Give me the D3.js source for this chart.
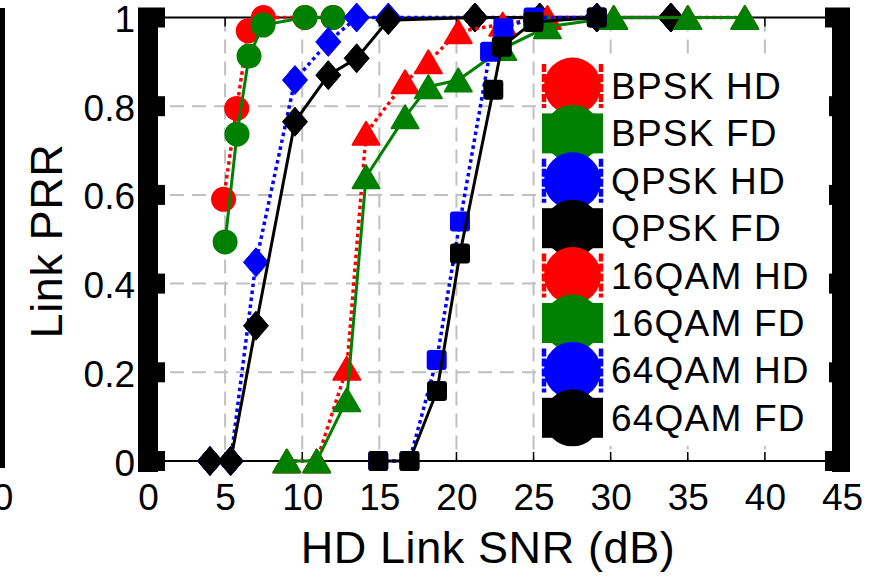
<!DOCTYPE html>
<html>
<head>
<meta charset="utf-8">
<script src="https://cdn.jsdelivr.net/npm/d3@7"></script>
<style>
  html, body { margin: 0; padding: 0; background: #fff; }
  svg { display: block; font-family: "Liberation Sans", Arial, Helvetica, sans-serif; }
</style>
</head>
<body>
<svg id="chart" width="876" height="577"></svg>
<script>
// ---------------- data ----------------
const xTickValues = [0, 5, 10, 15, 20, 25, 30, 35, 40, 45];
const yTickValues = [0, 0.2, 0.4, 0.6, 0.8, 1];
const yTickLabels = ["0", "0.2", "0.4", "0.6", "0.8", "1"];

const bpskX   = [4.9, 5.75, 6.5, 7.48, 10.18, 12.0];
const bpskHD  = [0.59, 0.795, 0.97, 1.0, 1.0, 1.0];
const bpskFDX = [5.0, 5.77, 6.55, 7.46, 10.18, 12.0];
const bpskFD  = [0.494, 0.737, 0.913, 0.983, 1.0, 1.0];

const qpskX   = [4.02, 5.36, 7.0, 9.53, 11.69, 13.53, 15.58, 21.2, 25.4, 29.1, 33.9];
const qpskHD  = [0, 0, 0.448, 0.859, 0.945, 1.0, 1.0, 1.0, 1.0, 1.0, 1.0];
const qpskFD  = [0, 0, 0.305, 0.765, 0.870, 0.908, 0.994, 1.0, 1.0, 1.0, 1.0];

const qam16X  = [9.0, 10.94, 12.89, 14.14, 16.67, 18.18, 20.12, 23.0, 25.9, 30.2, 35.0, 38.7];
const qam16HD = [0, 0, 0.209, 0.739, 0.855, 0.90, 0.968, 0.985, 1.0, 1.0, 1.0, 1.0];
const qam16FD = [0, 0, 0.138, 0.641, 0.776, 0.844, 0.859, 0.93, 0.979, 1.0, 1.0, 1.0];

const qam64HDX = [14.93, 16.95, 18.72, 20.23, 22.18, 23.04, 25.0, 29.1];
const qam64HD  = [0, 0, 0.228, 0.54, 0.923, 0.976, 1.0, 1.0];
const qam64FDX = [14.93, 16.95, 18.74, 20.23, 22.39, 22.94, 24.99, 29.1];
const qam64FD  = [0, 0, 0.158, 0.468, 0.837, 0.934, 0.99, 1.0];

const seriesNames = ["BPSK HD", "BPSK FD", "QPSK HD", "QPSK FD", "16QAM HD", "16QAM FD", "64QAM HD", "64QAM FD"];

// ---------------- setup ----------------
const svg = d3.select("#chart");
const x = d3.scaleLinear().domain([0, 45]).range([148, 842]);
const y = d3.scaleLinear().domain([0, 1]).range([461, 17.5]);

const series = [
  { name: seriesNames[0], xs: bpskX,    ys: bpskHD,  color: "#ff0000", hd: true,  marker: "circle" },
  { name: seriesNames[1], xs: bpskFDX,  ys: bpskFD,  color: "#008000", hd: false, marker: "circle" },
  { name: seriesNames[2], xs: qpskX,    ys: qpskHD,  color: "#0000ff", hd: true,  marker: "diamond" },
  { name: seriesNames[3], xs: qpskX,    ys: qpskFD,  color: "#000000", hd: false, marker: "diamond" },
  { name: seriesNames[4], xs: qam16X,   ys: qam16HD, color: "#ff0000", hd: true,  marker: "triangle" },
  { name: seriesNames[5], xs: qam16X,   ys: qam16FD, color: "#008000", hd: false, marker: "triangle" },
  { name: seriesNames[6], xs: qam64HDX, ys: qam64HD, color: "#0000ff", hd: true,  marker: "square" },
  { name: seriesNames[7], xs: qam64FDX, ys: qam64FD, color: "#000000", hd: false, marker: "square" }
];

// ---------------- grid ----------------
const grid = svg.append("g");
grid.selectAll("line.vg").data(xTickValues.filter(v => v > 0 && v < 45)).enter().append("line")
  .attr("x1", d => x(d)).attr("x2", d => x(d)).attr("y1", y(1)).attr("y2", y(0))
  .attr("stroke", "#c0c0c0").attr("stroke-width", 2).attr("stroke-dasharray", "14 8");
grid.selectAll("line.hg").data(yTickValues.filter(v => v > 0 && v < 1)).enter().append("line")
  .attr("x1", x(0)).attr("x2", x(45)).attr("y1", d => y(d)).attr("y2", d => y(d))
  .attr("stroke", "#c0c0c0").attr("stroke-width", 2).attr("stroke-dasharray", "14 8");

// ---------------- axes box ----------------
svg.append("line").attr("x1", x(0)).attr("x2", x(45)).attr("y1", y(0)).attr("y2", y(0))
  .attr("stroke", "#000").attr("stroke-width", 2);
svg.append("line").attr("x1", x(0)).attr("x2", x(45)).attr("y1", y(1)).attr("y2", y(1))
  .attr("stroke", "#000").attr("stroke-width", 2);
svg.selectAll("line.bt").data(xTickValues).enter().append("line")
  .attr("x1", d => x(d)).attr("x2", d => x(d)).attr("y1", y(0)).attr("y2", y(0) - 9)
  .attr("stroke", "#000").attr("stroke-width", 1.5);
svg.selectAll("line.tt").data(xTickValues).enter().append("line")
  .attr("x1", d => x(d)).attr("x2", d => x(d)).attr("y1", y(1)).attr("y2", y(1) + 9)
  .attr("stroke", "#000").attr("stroke-width", 1.5);

// tick labels via d3 axes
const xAxis = d3.axisBottom(x).tickValues(xTickValues).tickSize(0).tickPadding(0).tickFormat(d3.format("d"));
const gx = svg.append("g").attr("transform", `translate(0,${y(0)})`).call(xAxis);
gx.select(".domain").remove();
gx.selectAll("text").attr("font-size", 37).attr("fill", "#000")
  .attr("font-family", "Liberation Sans, Arial, sans-serif").attr("dy", null).attr("y", 49);

const yAxis = d3.axisLeft(y).tickValues(yTickValues).tickSize(0).tickPadding(0)
  .tickFormat((d, i) => yTickLabels[i]);
const gy = svg.append("g").attr("transform", `translate(135,0)`).call(yAxis);
gy.select(".domain").remove();
gy.selectAll("text").attr("font-size", 37).attr("fill", "#000")
  .attr("font-family", "Liberation Sans, Arial, sans-serif").attr("dy", null).attr("y", 14);

// ---------------- thick side bars ----------------
function sideBar(x0, x1, bumpX0, bumpX1) {
  svg.append("rect").attr("x", x0).attr("y", 8).attr("width", x1 - x0).attr("height", 464).attr("fill", "#000");
  svg.selectAll(null).data(yTickValues).enter().append("rect")
    .attr("x", bumpX0).attr("width", bumpX1 - bumpX0)
    .attr("y", d => y(d) - 10).attr("height", 20).attr("fill", "#000");
}
sideBar(138, 158, 138, 165);
sideBar(832, 850, 825, 850);
svg.append("rect").attr("x", 0).attr("y", 8).attr("width", 5).attr("height", 460).attr("fill", "#000");
svg.append("text").attr("x", 3).attr("y", 510).attr("text-anchor", "middle")
  .attr("font-size", 37).text("0");

// ---------------- data series ----------------
function drawMarker(g, m, cx, cy, color) {
  if (m === "circle") {
    g.append("circle").attr("cx", cx).attr("cy", cy).attr("r", 12.5).attr("fill", color);
  } else if (m === "diamond") {
    const w = 12.5, h = 14.5;
    g.append("path").attr("d", `M${cx},${cy - h}L${cx + w},${cy}L${cx},${cy + h}L${cx - w},${cy}Z`)
      .attr("fill", color).attr("stroke", color).attr("stroke-width", 1).attr("stroke-linejoin", "round");
  } else if (m === "triangle") {
    const w = 13.5, h = 11.5;
    g.append("path").attr("d", `M${cx},${cy - h}L${cx + w},${cy + h}L${cx - w},${cy + h}Z`)
      .attr("fill", color).attr("stroke", color).attr("stroke-width", 2).attr("stroke-linejoin", "round");
  } else {
    g.append("rect").attr("x", cx - 10).attr("y", cy - 10).attr("width", 20).attr("height", 20)
      .attr("rx", 3).attr("fill", color);
  }
}

const line = d3.line().x(d => x(d[0])).y(d => y(d[1]));
series.forEach(s => {
  const pts = s.xs.map((v, i) => [v, s.ys[i]]);
  const g = svg.append("g");
  g.append("path").attr("d", line(pts)).attr("fill", "none").attr("stroke", s.color)
    .attr("stroke-width", s.hd ? 3.5 : 3)
    .attr("stroke-dasharray", s.hd ? "3.5 3.5" : null);
  pts.forEach(p => drawMarker(g, s.marker, x(p[0]), y(p[1]), s.color));
});

// ---------------- legend ----------------
const lg = svg.append("g");
lg.append("rect").attr("x", 536).attr("y", 57).attr("width", 293).attr("height", 389).attr("fill", "#fff");
series.forEach((s, i) => {
  const cy = 86 + i * 47.4;
  const gi = lg.append("g");
  if (!s.hd) {
    gi.append("rect").attr("x", 542).attr("y", cy - 20).attr("width", 61).attr("height", 40).attr("fill", s.color);
  } else {
    [544, 601].forEach(bx => {
      gi.append("line").attr("x1", bx).attr("x2", bx).attr("y1", cy - 22).attr("y2", cy + 22)
        .attr("stroke", s.color).attr("stroke-width", 4.5).attr("stroke-dasharray", "8 2");
    });
  }
  gi.append("circle").attr("cx", 572.5).attr("cy", cy).attr("r", 28.5).attr("fill", s.color);
  gi.append("text").attr("x", 611).attr("y", cy + 13).attr("font-size", 37)
    .attr("letter-spacing", 1.2).attr("fill", "#000").text(s.name);
});

// ---------------- axis titles ----------------
svg.append("text").attr("x", 488).attr("y", 563).attr("text-anchor", "middle")
  .attr("font-size", 45).attr("letter-spacing", 0.6).attr("fill", "#000").text("HD Link SNR (dB)");
svg.append("text").attr("transform", "translate(62,241) rotate(-90)").attr("text-anchor", "middle")
  .attr("font-size", 45).attr("letter-spacing", 0.6).attr("fill", "#000").text("Link PRR");
</script>
</body>
</html>
